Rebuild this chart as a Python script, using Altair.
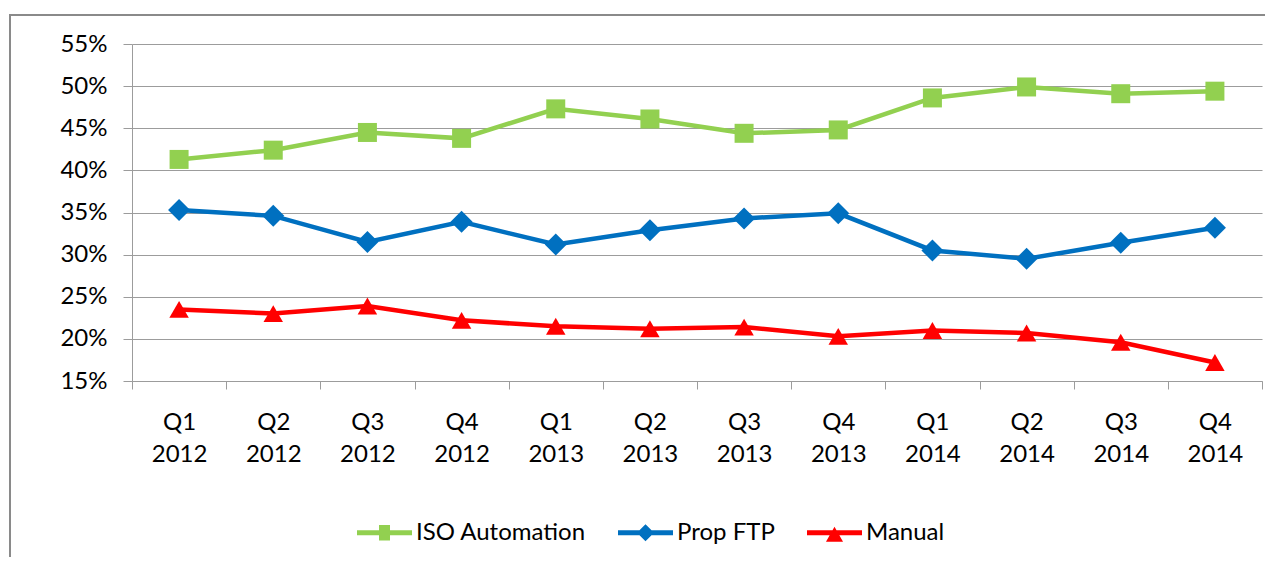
import altair as alt
import pandas as pd

quarters = ["Q1 2012", "Q2 2012", "Q3 2012", "Q4 2012",
            "Q1 2013", "Q2 2013", "Q3 2013", "Q4 2013",
            "Q1 2014", "Q2 2014", "Q3 2014", "Q4 2014"]
series_names = ["ISO Automation", "Prop FTP", "Manual"]
iso_automation = [41.3, 42.4, 44.5, 43.8, 47.3, 46.1, 44.4, 44.8, 48.6, 49.9, 49.1, 49.4]
prop_ftp = [35.3, 34.6, 31.5, 33.9, 31.2, 32.9, 34.3, 34.9, 30.5, 29.5, 31.4, 33.2]
manual = [23.5, 23.0, 23.9, 22.2, 21.5, 21.2, 21.4, 20.3, 21.0, 20.7, 19.6, 17.2]
y_ticks = [15, 20, 25, 30, 35, 40, 45, 50, 55]

colors = ["#92D050", "#0070C0", "#FF0000"]
shapes = ["square", "diamond", "triangle-up"]
sizes = [361, 484, 380]
# legend symbols: a line with the marker on it (unit coords, scaled by sqrt(size)/2)
legend_paths = [
    "M-1,-0.09L1,-0.09L1,0.09L-1,0.09Z M-0.2,-0.28L0.2,-0.28L0.2,0.28L-0.2,0.28Z",
    "M-1,-0.09L1,-0.09L1,0.09L-1,0.09Z M0,-0.31L0.31,0L0,0.31L-0.31,0Z",
    "M-1,-0.09L1,-0.09L1,0.09L-1,0.09Z M0,-0.22L0.31,0.33L-0.31,0.33Z",
]

rows = []
for name, vals in zip(series_names, [iso_automation, prop_ftp, manual]):
    for q, v in zip(quarters, vals):
        rows.append({"quarter": q, "value": v, "series": name})
df = pd.DataFrame(rows)

FONT = "Lato"
GRID = "#9C9C9C"

x_enc = alt.X(
    "quarter:N", sort=quarters, bandPosition=0.5,
    scale=alt.Scale(type="band", paddingInner=0, paddingOuter=0),
    axis=alt.Axis(title=None, labelAngle=0, labelExpr="split(datum.label, ' ')",
                  labelLineHeight=32, tickBand="extent", tickSize=8, labelPadding=21,
                  domainColor=GRID, tickColor=GRID, labelFont=FONT, labelFontSize=24,
                  labelColor="#000000", grid=False),
)
y_enc = alt.Y(
    "value:Q",
    scale=alt.Scale(domain=[15, 55], nice=False, zero=False),
    axis=alt.Axis(title=None, values=y_ticks, labelExpr="datum.value + '%'",
                  tickSize=9, labelPadding=16, domainColor=GRID, tickColor=GRID,
                  gridColor=GRID, gridWidth=1.2, labelFont=FONT, labelFontSize=24,
                  labelColor="#000000"),
)

base = alt.Chart(df)
layers = []
for name, col, shp, sz in zip(series_names, colors, shapes, sizes):
    sub = base.transform_filter(alt.datum.series == name)
    layers.append(sub.mark_line(color=col, strokeWidth=4.5).encode(x=x_enc, y=y_enc))
    layers.append(sub.mark_point(shape=shp, filled=True, opacity=1, color=col, size=sz)
                  .encode(x=x_enc, y=y_enc))

legend_layer = base.transform_filter("false").mark_point(filled=True, opacity=1).encode(
    color=alt.Color("series:N", scale=alt.Scale(domain=series_names, range=colors),
                    legend=alt.Legend(title=None, orient="none", legendX=225, legendY=461,
                                      direction="horizontal", symbolSize=3025,
                                      symbolStrokeWidth=0, symbolOpacity=1,
                                      labelFont=FONT, labelFontSize=24, labelColor="#000000",
                                      labelLimit=400,
                                      columnPadding=32, labelOffset=4, padding=0)),
    shape=alt.Shape("series:N", scale=alt.Scale(domain=series_names, range=legend_paths)),
)

frame_df = pd.DataFrame({"k": [0]})
frame_left = alt.Chart(frame_df).mark_rule(color="#8A8A8A", strokeWidth=2).encode(
    x=alt.value(-122), y=alt.value(-29), y2=alt.value(600))
frame_top = alt.Chart(frame_df).mark_rule(color="#8A8A8A", strokeWidth=2).encode(
    x=alt.value(-123), x2=alt.value(1300), y=alt.value(-29))

chart = alt.layer(frame_left, frame_top, *layers, legend_layer).properties(
    width=1130, height=337,
    autosize=alt.AutoSizeParams(type="none"),
    padding={"left": 124, "top": 36, "right": 3, "bottom": 176},
    background="#FFFFFF",
).configure_view(stroke=None)

chart.save("out.html", embed_options={"renderer": "svg", "actions": False})
